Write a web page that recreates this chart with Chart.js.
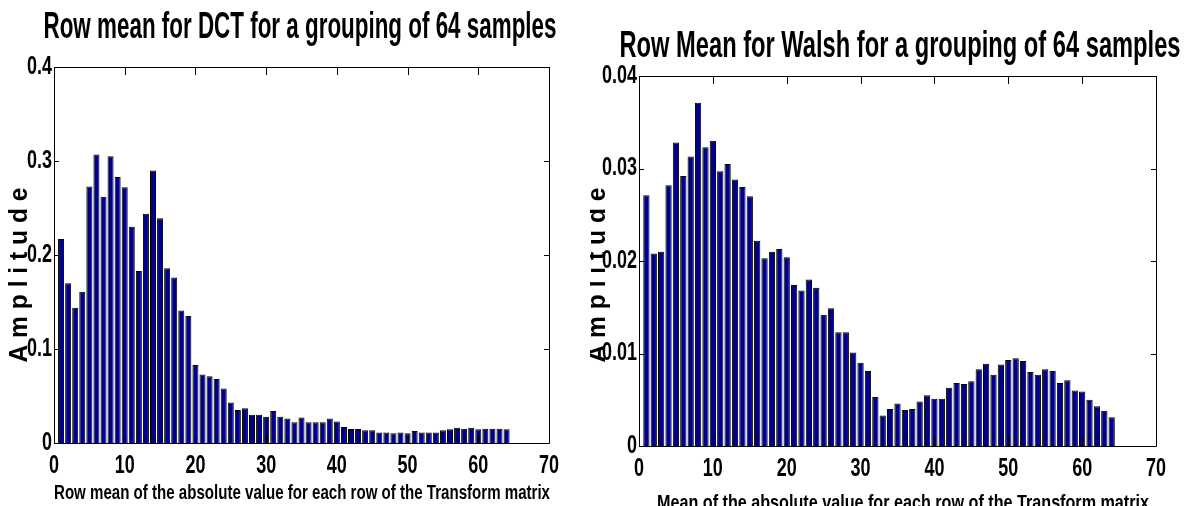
<!DOCTYPE html>
<html>
<head>
<meta charset="utf-8">
<script src="https://cdn.jsdelivr.net/npm/chart.js@4/dist/chart.umd.min.js"></script>
<style>
  html, body { margin: 0; padding: 0; background: #fff; }
  #wrap { position: relative; width: 1187px; height: 506px; overflow: hidden; }
  canvas { position: absolute; top: 0; }
</style>
</head>
<body>
<div id="wrap">
  <canvas id="chart-dct" width="590" height="506" style="left:0"></canvas>
  <canvas id="chart-walsh" width="597" height="506" style="left:590px"></canvas>
</div>
<script>
// ====== DATA ======
const rowIndex = Array.from({ length: 64 }, (_, i) => i + 1);

const dctRowMean = [
  0.217, 0.170, 0.144, 0.161, 0.273, 0.307, 0.262, 0.305, 0.283, 0.272,
  0.230, 0.183, 0.244, 0.290, 0.239, 0.186, 0.176, 0.141, 0.135, 0.083,
  0.073, 0.071, 0.068, 0.058, 0.043, 0.035, 0.037, 0.030, 0.030, 0.028,
  0.034, 0.028, 0.026, 0.022, 0.027, 0.022, 0.022, 0.022, 0.026, 0.023,
  0.017, 0.015, 0.015, 0.0135, 0.0135, 0.0113, 0.0113, 0.0103, 0.0113, 0.0103,
  0.0128, 0.0113, 0.0113, 0.0113, 0.0135, 0.0145, 0.0163, 0.0152, 0.0163, 0.0145,
  0.0152, 0.0152, 0.0152, 0.0145
];

const walshRowMean = [
  0.0271, 0.0208, 0.0210, 0.0282, 0.0328, 0.0292, 0.0313, 0.0371, 0.0323, 0.0330,
  0.0297, 0.0305, 0.0288, 0.0280, 0.0270, 0.0222, 0.0203, 0.0210, 0.0213, 0.0204,
  0.0174, 0.0168, 0.0180, 0.0171, 0.0142, 0.0149, 0.0123, 0.0123, 0.0101, 0.0090,
  0.0081, 0.0053, 0.0033, 0.0040, 0.0046, 0.0039, 0.0040, 0.0048, 0.0055, 0.0051,
  0.0051, 0.0063, 0.0068, 0.0067, 0.0070, 0.0083, 0.0089, 0.0077, 0.0088, 0.0093,
  0.0095, 0.0092, 0.0080, 0.0077, 0.0083, 0.0081, 0.0068, 0.0071, 0.0060, 0.0059,
  0.0050, 0.0043, 0.0038, 0.0031
];

const xTicks = [0, 10, 20, 30, 40, 50, 60, 70];
const dctYTicks = [0, 0.1, 0.2, 0.3, 0.4];
const walshYTicks = [0, 0.01, 0.02, 0.03, 0.04];

const FONT = '"Liberation Sans Narrow", "Arial Narrow", "Liberation Sans", Arial, sans-serif';

// ====== TEXT HELPERS ======
function drawText(ctx, str, x, y, o) {
    ctx.save();
    ctx.translate(x, y);
    if (o.rotate) ctx.rotate(o.rotate);
    ctx.font = `bold ${o.size}px ${FONT}`;
    let sx = o.sx || 1;
    if (o.width) sx = o.width / ctx.measureText(str).width;
    ctx.scale(sx, 1);
    ctx.fillStyle = "#000";
    ctx.textAlign = o.align || "center";
    ctx.textBaseline = o.baseline || "alphabetic";
    ctx.fillText(str, 0, 0);
    ctx.restore();
}

// box, inward ticks, tick labels and titles, drawn MATLAB style
const matlabAxes = {
    id: "matlabAxes",
    afterDraw(chart, args, opts) {
        const ctx = chart.ctx;
        const a = chart.chartArea;
        const xs = chart.scales.x;
        const ys = chart.scales.y;

        ctx.save();
        ctx.strokeStyle = "#000";
        ctx.lineWidth = 1;
        ctx.beginPath();
        ctx.rect(Math.round(a.left) + 0.5, Math.round(a.top) + 0.5,
                 Math.round(a.right - a.left), Math.round(a.bottom - a.top));
        xs.ticks.forEach(t => {
            const px = Math.round(xs.getPixelForValue(t.value)) + 0.5;
            ctx.moveTo(px, a.top); ctx.lineTo(px, a.top + 8);
            ctx.moveTo(px, a.bottom); ctx.lineTo(px, a.bottom - 8);
        });
        ys.ticks.forEach(t => {
            const py = Math.round(ys.getPixelForValue(t.value)) + 0.5;
            ctx.moveTo(a.left, py); ctx.lineTo(a.left + 5, py);
            ctx.moveTo(a.right, py); ctx.lineTo(a.right - 5, py);
        });
        ctx.stroke();
        ctx.restore();

        xs.ticks.forEach(t => {
            drawText(ctx, String(t.value), xs.getPixelForValue(t.value), a.bottom + 23,
                     { size: 25, sx: 0.72, baseline: "middle" });
        });
        ys.ticks.forEach(t => {
            drawText(ctx, String(t.value), a.left - 2, ys.getPixelForValue(t.value),
                     { size: 25, sx: 0.72, align: "right", baseline: "middle" });
        });

        const tt = opts.title, xl = opts.xLabel, yl = opts.yLabel;
        drawText(ctx, tt.text, tt.x, tt.y, { size: 36, width: tt.width });
        drawText(ctx, xl.text, xl.x, xl.y, { size: 21, width: xl.width });
        drawText(ctx, yl.text, yl.x, yl.y, { size: 25, width: yl.width, rotate: -Math.PI / 2 });
    }
};

function makeBarChart(canvasId, values, yTicks, box, texts) {
    const ctx = document.getElementById(canvasId).getContext("2d");
    return new Chart(ctx, {
        type: "bar",
        data: {
            datasets: [{
                data: rowIndex.map((x, i) => ({ x: x, y: values[i] })),
                backgroundColor: "#00008c",
                borderColor: "#000000",
                borderWidth: 1,
                barPercentage: 0.85,
                categoryPercentage: 1.0
            }]
        },
        options: {
            responsive: false,
            animation: false,
            devicePixelRatio: 1,
            layout: { padding: { top: box.top, right: box.right, left: 0, bottom: 0 } },
            plugins: {
                legend: { display: false },
                tooltip: { enabled: false },
                matlabAxes: texts
            },
            scales: {
                x: {
                    type: "linear",
                    min: 0, max: 70,
                    offset: false,
                    grid: { display: false },
                    border: { display: false },
                    ticks: { display: false },
                    afterBuildTicks: s => { s.ticks = xTicks.map(v => ({ value: v })); },
                    afterFit: s => { s.height = box.bottom; }
                },
                y: {
                    min: yTicks[0], max: yTicks[yTicks.length - 1],
                    grid: { display: false },
                    border: { display: false },
                    ticks: { display: false },
                    afterBuildTicks: s => { s.ticks = yTicks.map(v => ({ value: v })); },
                    afterFit: s => { s.width = box.left; }
                }
            }
        },
        plugins: [matlabAxes]
    });
}

// ====== DCT ======
makeBarChart("chart-dct", dctRowMean, dctYTicks,
    { left: 54, top: 67, right: 41, bottom: 63 },
    {
        title: { text: "Row mean for DCT for a grouping of 64 samples", x: 300, y: 38, width: 513 },
        xLabel: { text: "Row mean of the absolute value for each row of the Transform matrix", x: 302, y: 499, width: 496 },
        yLabel: { text: "A m p l i t u d e", x: 27, y: 275, width: 175 }
    });

// ====== WALSH ======
makeBarChart("chart-walsh", walshRowMean, walshYTicks,
    { left: 49, top: 76, right: 31, bottom: 60 },
    {
        title: { text: "Row Mean for Walsh for a grouping of 64 samples", x: 310, y: 57, width: 561 },
        xLabel: { text: "Mean of the absolute value for each row of the Transform matrix", x: 313, y: 509, width: 492 },
        yLabel: { text: "A m p l i t u d e", x: 15, y: 275, width: 175 }
    });
</script>
</body>
</html>
